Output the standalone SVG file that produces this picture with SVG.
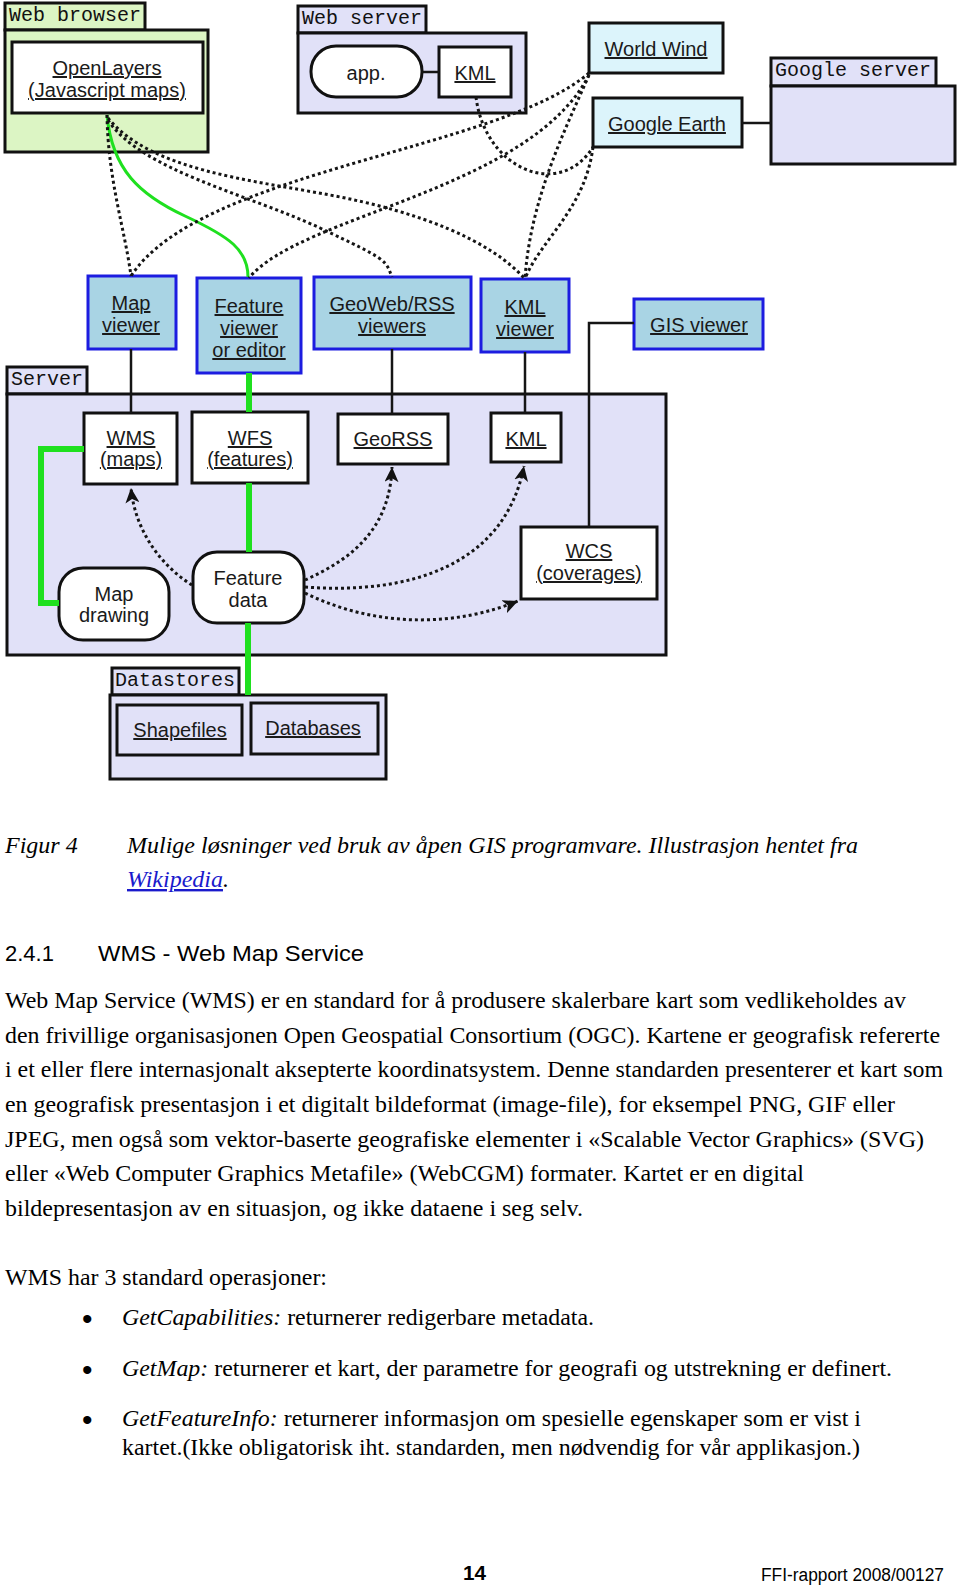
<svg xmlns="http://www.w3.org/2000/svg" width="960" height="1586" viewBox="0 0 960 1586">
<style>
.box{stroke:#111;stroke-width:3}
.lav{fill:#e1e1f8}
.wht{fill:#fff}
.vw{fill:#a9d4e4;stroke:#1c1ce0;stroke-width:3}
.cy{fill:#dcf4fb;stroke:#111;stroke-width:3}
.tab{font-family:"Liberation Mono",monospace;font-size:20px;fill:#111}
.lbl{font-family:"Liberation Sans",Arial,sans-serif;font-size:20px;fill:#1a1a1a;text-anchor:middle}
.u{text-decoration:underline}
.dot{fill:none;stroke:#151515;stroke-width:3;stroke-dasharray:3 3}
.ln{fill:none;stroke:#151515;stroke-width:2.5}
.gr{fill:none;stroke:#1fe01f;stroke-width:6}
.body{font-family:"Liberation Serif","Times New Roman",serif;font-size:24px;fill:#000}
.it{font-style:italic}
.bul{font-family:"Liberation Sans",Arial,sans-serif;font-size:30px;fill:#000}
</style>
<defs>
<marker id="ah" markerUnits="userSpaceOnUse" markerWidth="18" markerHeight="14" refX="15" refY="7" orient="auto">
<path d="M15,7 L0,0 L4,7 L0,14 Z" fill="#111"/>
</marker>
</defs>
<rect width="960" height="1586" fill="#fff"/>

<g id="web-browser">
<rect class="box" x="5" y="3" width="140" height="27" fill="#dcf5c4"/>
<rect class="box" x="5" y="30" width="203" height="122" fill="#dcf5c4"/>
<text class="tab" x="9" y="21">Web browser</text>
</g>
<g id="openlayers">
<rect class="box wht" x="12" y="42" width="191" height="71"/>
<text class="lbl u" x="107" y="75">OpenLayers</text>
<text class="lbl u" x="107" y="97">(Javascript maps)</text>
</g>

<g id="web-server">
<rect class="box lav" x="298" y="6" width="128" height="27"/>
<rect class="box lav" x="298" y="33" width="228" height="80"/>
<text class="tab" x="302" y="24">Web server</text>
</g>
<g id="app">
<rect class="box wht" x="311" y="46" width="111" height="51" rx="25"/>
<text class="lbl" x="366" y="80">app.</text>
</g>
<g id="kml-web">
<rect class="box wht" x="439" y="47" width="72" height="50"/>
<text class="lbl u" x="475" y="80">KML</text>
</g>

<g id="world-wind">
<rect class="cy" x="589" y="23" width="134" height="50"/>
<text class="lbl u" x="656" y="56">World Wind</text>
</g>
<g id="google-earth">
<rect class="cy" x="593" y="98" width="149" height="49"/>
<text class="lbl u" x="667" y="131">Google Earth</text>
</g>
<g id="google-server">
<rect class="box lav" x="771" y="58" width="165" height="28"/>
<rect class="box lav" x="771" y="86" width="184" height="78"/>
<text class="tab" x="775" y="76">Google server</text>
</g>

<g id="map-viewer">
<rect class="vw" x="88" y="276" width="88" height="73"/>
<text class="lbl u" x="131" y="310">Map</text>
<text class="lbl u" x="131" y="332">viewer</text>
</g>
<g id="feature-viewer">
<rect class="vw" x="197" y="278" width="104" height="95"/>
<text class="lbl u" x="249" y="313">Feature</text>
<text class="lbl u" x="249" y="335">viewer</text>
<text class="lbl u" x="249" y="357">or editor</text>
</g>
<g id="georss-viewers">
<rect class="vw" x="314" y="277" width="157" height="72"/>
<text class="lbl u" x="392" y="311">GeoWeb/RSS</text>
<text class="lbl u" x="392" y="333">viewers</text>
</g>
<g id="kml-viewer">
<rect class="vw" x="481" y="279" width="88" height="73"/>
<text class="lbl u" x="525" y="314">KML</text>
<text class="lbl u" x="525" y="336">viewer</text>
</g>
<g id="gis-viewer">
<rect class="vw" x="634" y="299" width="129" height="50"/>
<text class="lbl u" x="699" y="332">GIS viewer</text>
</g>

<g id="server">
<rect class="box lav" x="7" y="367" width="80" height="27"/>
<rect class="box lav" x="7" y="394" width="659" height="261"/>
<text class="tab" x="11" y="385">Server</text>
</g>
<g id="wms">
<rect class="box wht" x="84" y="413" width="93" height="71"/>
<text class="lbl u" x="131" y="445">WMS</text>
<text class="lbl u" x="131" y="466">(maps)</text>
</g>
<g id="wfs">
<rect class="box wht" x="192" y="412" width="116" height="71"/>
<text class="lbl u" x="250" y="445">WFS</text>
<text class="lbl u" x="250" y="466">(features)</text>
</g>
<g id="georss">
<rect class="box wht" x="338" y="414" width="110" height="50"/>
<text class="lbl u" x="393" y="446">GeoRSS</text>
</g>
<g id="kml-server">
<rect class="box wht" x="491" y="413" width="70" height="49"/>
<text class="lbl u" x="526" y="446">KML</text>
</g>
<g id="wcs">
<rect class="box wht" x="521" y="527" width="136" height="72"/>
<text class="lbl u" x="589" y="558">WCS</text>
<text class="lbl u" x="589" y="580">(coverages)</text>
</g>
<g id="map-drawing">
<rect class="box wht" x="59" y="568" width="110" height="72" rx="24"/>
<text class="lbl" x="114" y="601">Map</text>
<text class="lbl" x="114" y="622">drawing</text>
</g>
<g id="feature-data">
<rect class="box wht" x="193" y="552" width="111" height="71" rx="24"/>
<text class="lbl" x="248" y="585">Feature</text>
<text class="lbl" x="248" y="607">data</text>
</g>

<g id="datastores">
<rect class="box lav" x="112" y="668" width="127" height="27"/>
<rect class="box lav" x="110" y="695" width="276" height="84"/>
<text class="tab" x="115" y="686">Datastores</text>
</g>
<g id="shapefiles">
<rect class="box lav" x="117" y="705" width="125" height="50"/>
<text class="lbl u" x="180" y="737">Shapefiles</text>
</g>
<g id="databases">
<rect class="box lav" x="251" y="703" width="127" height="51"/>
<text class="lbl u" x="313" y="735">Databases</text>
</g>

<g id="connectors">
<line class="ln" x1="422" y1="72" x2="439" y2="72"/>
<line class="ln" x1="742" y1="123" x2="771" y2="123"/>
<line class="ln" x1="131" y1="349" x2="131" y2="413"/>
<line class="ln" x1="392" y1="349" x2="392" y2="414"/>
<line class="ln" x1="525" y1="352" x2="525" y2="413"/>
<polyline class="ln" points="634,323 589,323 589,527"/>
<line class="gr" x1="249" y1="373" x2="249" y2="412"/>
<line class="gr" x1="249" y1="483" x2="249" y2="552"/>
<line class="gr" x1="248" y1="623" x2="248" y2="695"/>
<polyline class="gr" points="84,449 41,449 41,603 59,603"/>
<path d="M107,115 C112,170 140,195 185,216 S248,250 248,277" fill="none" stroke="#1fe01f" stroke-width="3"/>
<path class="dot" d="M107,115 C108,180 125,230 131,276"/>
<path class="dot" d="M108,120 C140,170 250,195 320,228 S385,260 392,277"/>
<path class="dot" d="M108,118 C150,170 250,180 330,195 C420,212 490,240 525,279"/>
<path class="dot" d="M589,73 C500,150 200,170 131,276"/>
<path class="dot" d="M589,75 C530,190 300,215 249,278"/>
<path class="dot" d="M589,75 C565,130 530,200 525,279"/>
<path class="dot" d="M593,147 C585,210 540,240 525,279"/>
<path class="dot" d="M476,97 C485,170 560,200 593,147"/>
<path class="dot" d="M192,585 C160,565 135,530 131,488" marker-end="url(#ah)"/>
<path class="dot" d="M305,580 C350,560 390,530 392,467" marker-end="url(#ah)"/>
<path class="dot" d="M305,587 C410,595 505,565 524,466" marker-end="url(#ah)"/>
<path class="dot" d="M305,593 C380,630 460,625 518,601" marker-end="url(#ah)"/>
</g>

<g id="text">
<text class="body it" x="5" y="853" font-size="22">Figur 4</text>
<text class="body it" x="127" y="853" font-size="22" textLength="731" lengthAdjust="spacingAndGlyphs">Mulige løsninger ved bruk av åpen GIS programvare. Illustrasjon hentet fra</text>
<text class="body it" x="127" y="887" font-size="22"><tspan fill="#1a1acc" text-decoration="underline">Wikipedia</tspan>.</text>
<text x="5" y="961" font-family="Liberation Sans,Arial,sans-serif" font-size="22" fill="#000">2.4.1</text>
<text x="98" y="961" font-family="Liberation Sans,Arial,sans-serif" font-size="22" fill="#000" textLength="266" lengthAdjust="spacingAndGlyphs">WMS - Web Map Service</text>
<text class="body" x="5" y="1008" textLength="901" lengthAdjust="spacingAndGlyphs">Web Map Service (WMS) er en standard for å produsere skalerbare kart som vedlikeholdes av</text>
<text class="body" x="5" y="1043" textLength="935" lengthAdjust="spacingAndGlyphs">den frivillige organisasjonen Open Geospatial Consortium (OGC). Kartene er geografisk refererte</text>
<text class="body" x="5" y="1077" textLength="938" lengthAdjust="spacingAndGlyphs">i et eller flere internasjonalt aksepterte koordinatsystem. Denne standarden presenterer et kart som</text>
<text class="body" x="5" y="1112" textLength="890" lengthAdjust="spacingAndGlyphs">en geografisk presentasjon i et digitalt bildeformat (image-file), for eksempel PNG, GIF eller</text>
<text class="body" x="5" y="1147" textLength="919" lengthAdjust="spacingAndGlyphs">JPEG, men også som vektor-baserte geografiske elementer i «Scalable Vector Graphics» (SVG)</text>
<text class="body" x="5" y="1181" textLength="799" lengthAdjust="spacingAndGlyphs">eller «Web Computer Graphics Metafile» (WebCGM) formater. Kartet er en digital</text>
<text class="body" x="5" y="1216" textLength="578" lengthAdjust="spacingAndGlyphs">bildepresentasjon av en situasjon, og ikke dataene i seg selv.</text>
<text class="body" x="5" y="1285" textLength="322" lengthAdjust="spacingAndGlyphs">WMS har 3 standard operasjoner:</text>
<text class="bul" x="82" y="1329">•</text>
<text class="body" x="122" y="1325" textLength="472" lengthAdjust="spacingAndGlyphs"><tspan class="it">GetCapabilities:</tspan> returnerer redigerbare metadata.</text>
<text class="bul" x="82" y="1380">•</text>
<text class="body" x="122" y="1376" textLength="770" lengthAdjust="spacingAndGlyphs"><tspan class="it">GetMap:</tspan> returnerer et kart, der parametre for geografi og utstrekning er definert.</text>
<text class="bul" x="82" y="1430">•</text>
<text class="body" x="122" y="1426" textLength="739" lengthAdjust="spacingAndGlyphs"><tspan class="it">GetFeatureInfo:</tspan> returnerer informasjon om spesielle egenskaper som er vist i</text>
<text class="body" x="122" y="1455" textLength="738" lengthAdjust="spacingAndGlyphs">kartet.(Ikke obligatorisk iht. standarden, men nødvendig for vår applikasjon.)</text>
<text x="463" y="1580" font-family="Liberation Sans,Arial,sans-serif" font-size="21" font-weight="bold" fill="#000" textLength="23" lengthAdjust="spacingAndGlyphs">14</text>
<text x="761" y="1581" font-family="Liberation Sans,Arial,sans-serif" font-size="18" fill="#000" textLength="183" lengthAdjust="spacingAndGlyphs">FFI-rapport 2008/00127</text>
</g>
</svg>
